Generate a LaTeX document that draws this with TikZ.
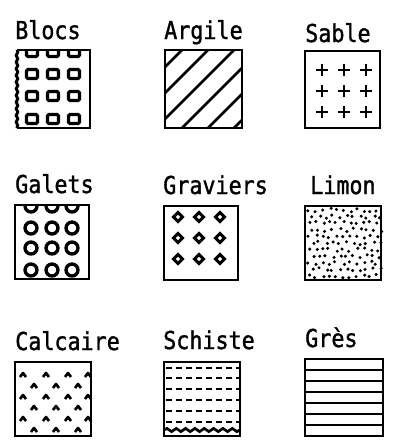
\documentclass[tikz,border=0pt]{standalone}
\usepackage{fontspec}
\newfontfamily\lab[FakeStretch=0.88,FakeBold=1.3]{DejaVu Sans Mono}
\usetikzlibrary{decorations.pathmorphing}
\begin{document}
\begin{tikzpicture}[x=0.75pt,y=-0.75pt,
  box/.style={line width=2.2pt},
  lbl/.style={anchor=base west, inner sep=0pt, font=\lab\fontsize{18.5}{18.5}\selectfont},
  pat/.style={line width=2pt}]
\useasboundingbox (0,0) rectangle (397,440);
% labels
\node[lbl] (lBlocs) at (15,39) {Blocs};
\node[lbl] (lArgile) at (164,39) {Argile};
\node[lbl] (lSable) at (305,42) {Sable};
\node[lbl] (lGalets) at (15,193) {Galets};
\node[lbl] (lGraviers) at (163,194) {Graviers};
\node[lbl] (lLimon) at (310,194) {Limon};
\node[lbl] (lCalcaire) at (15,350) {Calcaire};
\node[lbl] (lSchiste) at (163,349) {Schiste};
\node[lbl] (lGres) at (305,347) {Grès};
% Blocs
\begin{scope}
\clip (15,50) rectangle (90,128);
\foreach \cx in {32,53,74} \foreach \cy in {52,74,96,119}
  \draw[pat,line width=2.3pt,rounded corners=1pt] (\cx-5.5,\cy-4.5) rectangle (\cx+5.5,\cy+4.5);
\end{scope}
\draw[box] (17,50) -- (90,50) -- (90,128) -- (17,128);
\draw[box,decorate,decoration={snake,amplitude=0.6pt,segment length=5pt}] (17,50) -- (17,128);
% Argile
\begin{scope}
\clip (165,50) rectangle (242,128);
\foreach \c in {232,258,284,310,336,362}
  \draw[pat] (\c-140,140) -- (\c-40,40);
\end{scope}
\draw[box] (165,50) rectangle (242,128);
% Sable
\draw[box] (305,51) rectangle (380,128);
\foreach \cx in {322,344,366} \foreach \cy in {70,91,112}
  \draw[pat,line width=1.9pt] (\cx-6,\cy) -- (\cx+6,\cy) (\cx,\cy-6) -- (\cx,\cy+6);
% Galets
\begin{scope}
\clip (15,205) rectangle (89,279);
\foreach \cx in {31,52,72} \foreach \cy in {206,228,248,270}
  \draw[pat,line width=2.5pt] (\cx,\cy) circle (6);
\end{scope}
\draw[box] (15,205) rectangle (89,279);
% Graviers
\draw[box] (164,206) rectangle (238,280);
\foreach \cx in {178,199,220} \foreach \cy in {217,238,259}
  \draw[pat,line width=2.2pt] (\cx-4.5,\cy) -- (\cx,\cy-4.5) -- (\cx+4.5,\cy) -- (\cx,\cy+4.5) -- cycle;
% Limon
\pgfmathsetseed{12}
\foreach \r in {0,...,10}{
  \foreach \k in {0,...,10}{
    \pgfmathsetmacro{\px}{309+\k*6.8+mod(\r,2)*3.4+rand*1.8}
    \pgfmathsetmacro{\py}{210+\r*6.6+rand*1.8}
    \fill (\px,\py) circle (1.7);
  }
}
\draw[box] (305,206) rectangle (381,280);
% Calcaire
\draw[box] (15,362) rectangle (91,436);
\foreach \cy in {375,397,419} \foreach \cx in {23,46,68,88}
  \draw[line width=2pt,line join=round] (\cx-3,\cy+2) -- (\cx,\cy-2) -- (\cx+3,\cy+2);
\foreach \cy in {386,408,430} \foreach \cx in {34,56,78}
  \draw[line width=2pt,line join=round] (\cx-3,\cy+2) -- (\cx,\cy-2) -- (\cx+3,\cy+2);
% Schiste
\foreach \cy in {368,378,389,400,411,422}
  \draw[line width=2pt,dash pattern=on 4.5pt off 3pt] (166,\cy) -- (239,\cy);
\draw[line width=2pt,decorate,decoration={snake,amplitude=1.2pt,segment length=7pt}] (164,430) -- (240,430);
\draw[box] (164,362) rectangle (240,436);
% Gres
\draw[box] (305,359) rectangle (383,436);
\foreach \cy in {370,381,392,403,414,425}
  \draw[line width=2pt] (305,\cy) -- (383,\cy);
\end{tikzpicture}
\end{document}
